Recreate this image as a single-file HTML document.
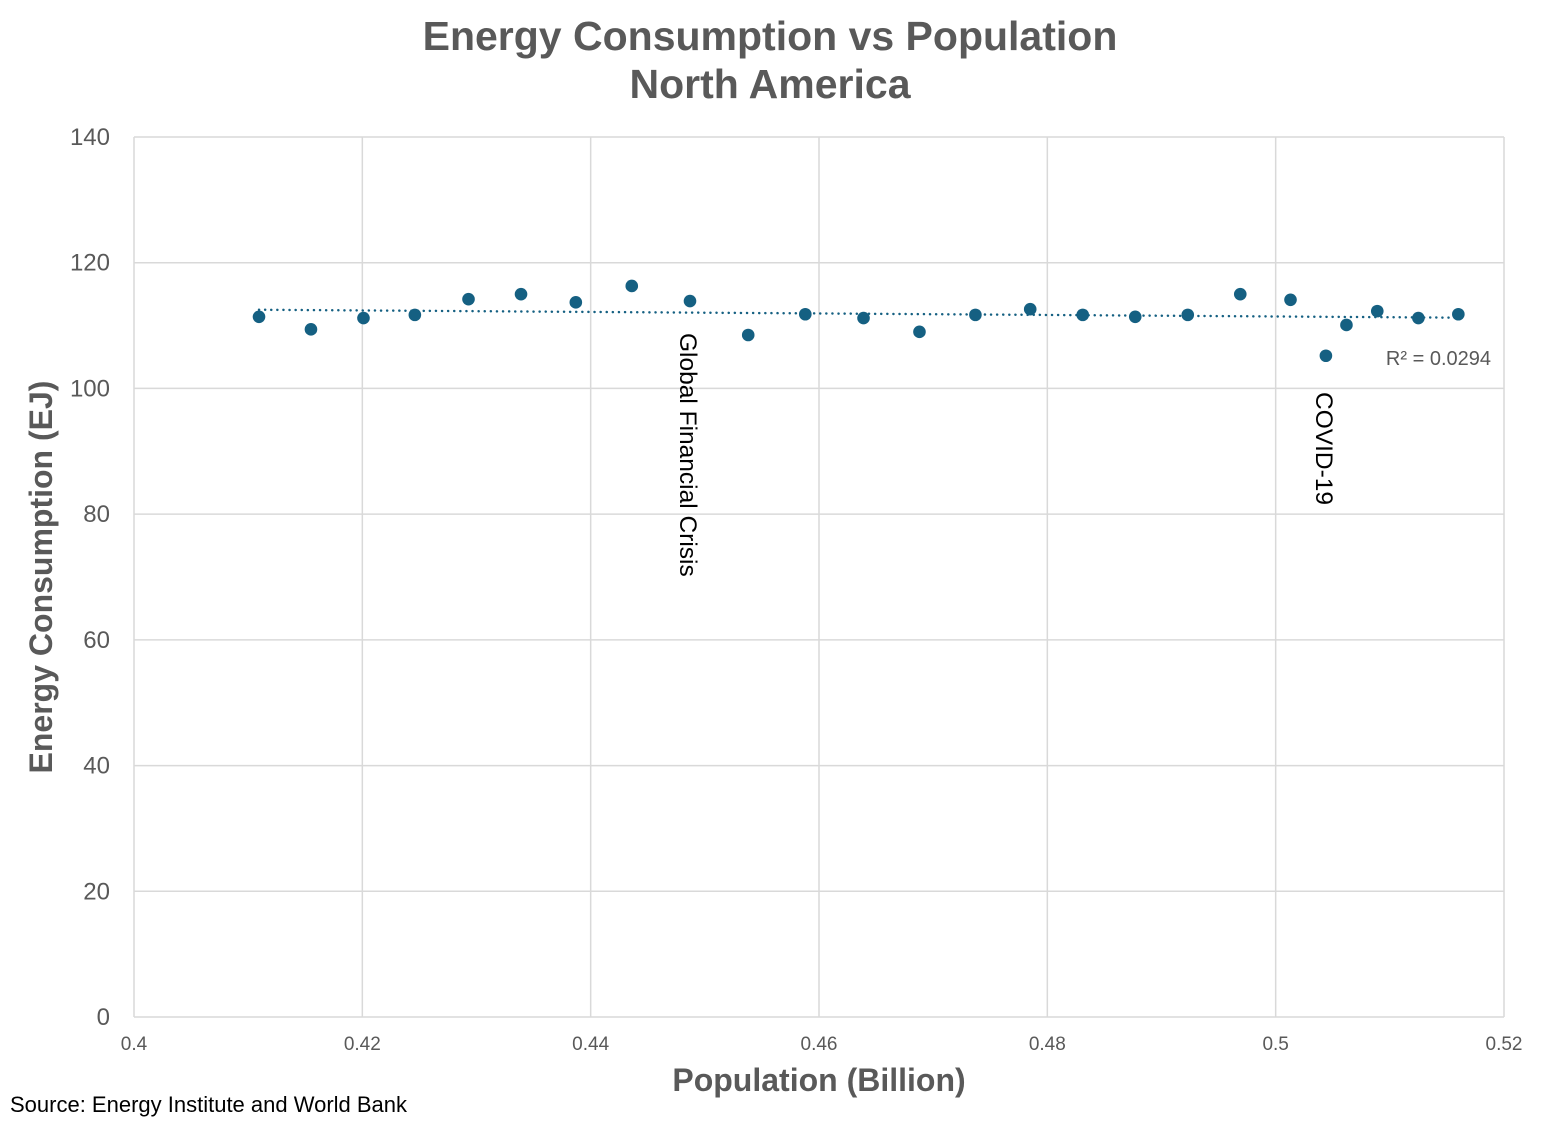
<!DOCTYPE html>
<html><head><meta charset="utf-8"><style>
html,body{margin:0;padding:0;background:#fff;}
svg{display:block;font-family:"Liberation Sans",sans-serif;}
</style></head><body>
<svg id="chart" width="1541" height="1125">
<text x="770" y="50" text-anchor="middle" font-size="41" font-weight="bold" fill="#595959">Energy Consumption vs Population</text>
<text x="770" y="98" text-anchor="middle" font-size="41" font-weight="bold" fill="#595959">North America</text>
<g id="grid"></g><g id="marks"></g>
<text x="819" y="1091" text-anchor="middle" font-size="32" font-weight="bold" fill="#595959">Population (Billion)</text>
<text transform="translate(52,577) rotate(-90)" text-anchor="middle" font-size="32" font-weight="bold" fill="#595959">Energy Consumption (EJ)</text>
<text x="10" y="1112" font-size="22" fill="#000">Source: Energy Institute and World Bank</text>
</svg>
<script>
const population=[0.41095,0.4155,0.4201,0.4246,0.4293,0.4339,0.4387,0.4436,0.4487,0.4538,0.4588,0.4639,0.4688,0.4737,0.4785,0.4831,0.4877,0.4923,0.4969,0.5013,0.5044,0.5062,0.5089,0.5125,0.5160];
const energy=[111.4,109.4,111.2,111.7,114.2,115.0,113.7,116.3,113.9,108.5,111.8,111.2,109.0,111.7,112.6,111.7,111.4,111.7,115.0,114.1,105.2,110.1,112.3,111.2,111.8];
const xTicks=[0.4,0.42,0.44,0.46,0.48,0.5,0.52];
const xTickLabels=["0.4","0.42","0.44","0.46","0.48","0.5","0.52"];
const yTicks=[0,20,40,60,80,100,120,140];
const NS="http://www.w3.org/2000/svg";
const X0=134,X1=1504,Y0=1017,Y1=137;
function sx(v){return X0+(v-0.4)/0.12*(X1-X0);}
function sy(v){return Y0-v/140*(Y0-Y1);}
function mk(tag,attrs,parent,txt){const e=document.createElementNS(NS,tag);for(const k in attrs)e.setAttribute(k,attrs[k]);if(txt!==undefined)e.textContent=txt;parent.appendChild(e);return e;}
const grid=document.getElementById('grid'),marks=document.getElementById('marks');
yTicks.forEach(t=>{
  const l=mk('line',{x1:X0,x2:X1,y1:sy(t),y2:sy(t),stroke:'#d9d9d9','stroke-width':1.5},grid);
  
  
  const tx=mk('text',{x:X0-24,y:sy(t)+8,'text-anchor':'end','font-size':24,fill:'#595959'},grid,String(t));
  
  
});
xTicks.forEach((t,i)=>{
  const l=mk('line',{x1:sx(t),x2:sx(t),y1:Y1,y2:Y0,stroke:'#d9d9d9','stroke-width':1.5},grid);
  
  
  const tx=mk('text',{x:sx(t),y:Y0+33,'text-anchor':'middle','font-size':19,fill:'#595959'},grid,xTickLabels[i]);
  
  
});
const n=population.length;let mx=0,my=0;for(let i=0;i<n;i++){mx+=population[i];my+=energy[i];}mx/=n;my/=n;
let sxy=0,sxx=0,syy=0;for(let i=0;i<n;i++){sxy+=(population[i]-mx)*(energy[i]-my);sxx+=(population[i]-mx)**2;syy+=(energy[i]-my)**2;}
const b=sxy/sxx,a=my-b*mx;const r2=sxy*sxy/(sxx*syy);
const xmin=Math.min(...population),xmax=Math.max(...population);
const tl=mk('line',{x1:sx(xmin),y1:sy(a+b*xmin),x2:sx(xmax),y2:sy(a+b*xmax),stroke:'#156082','stroke-width':2.5,'stroke-dasharray':'0.1 6','stroke-linecap':'round'},marks);


population.forEach((p,i)=>{
  const c=mk('circle',{cx:sx(p),cy:sy(energy[i]),r:6.3,fill:'#156082'},marks);
  
  
});
const rt=mk('text',{x:1491,y:365,'text-anchor':'end','font-size':20,fill:'#595959'},marks,'R² = 0.0294');


const g1=mk('text',{transform:'translate('+(sx(population[8])-10)+',333) rotate(90)','font-size':24.5,fill:'#000'},marks,'Global Financial Crisis');


const g2=mk('text',{transform:'translate('+(sx(population[20])-10)+',392) rotate(90)','font-size':24.5,fill:'#000'},marks,'COVID-19');


</script>
</body></html>
